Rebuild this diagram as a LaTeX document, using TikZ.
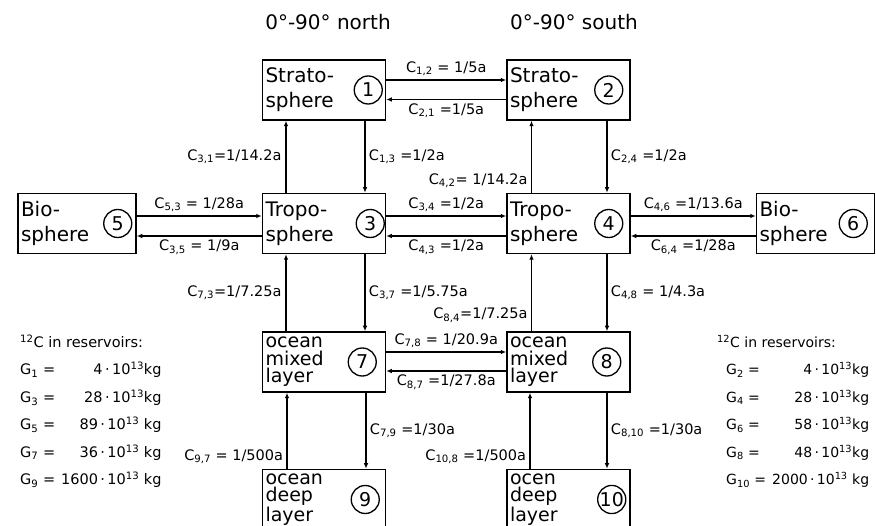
\documentclass[tikz,border=0pt]{standalone}
\usepackage{fontspec}
\setmainfont{DejaVu Sans}
\usetikzlibrary{arrows.meta,positioning}

\newcommand{\cf}[1]{C\textsubscript{#1}}

\begin{document}
\begin{tikzpicture}[
x=1pt, y=-1pt,
font=\fontsize{14.5}{16}\selectfont,
box/.style={draw, line width=1.5pt, minimum width=123pt, minimum height=60pt, text width=117pt, inner sep=3pt, align=left, font=\fontsize{20}{25}\selectfont},
bio/.style={box, minimum width=118pt, text width=112pt},
ocean/.style={box, font=\fontsize{19}{17.5}\selectfont},
num/.style={draw, circle, line width=1.3pt, minimum size=28pt, inner sep=0pt, font=\fontsize{19}{19}\selectfont},
flow/.style={-{Latex[length=5.5pt,width=4.5pt]}, line width=1.2pt},
heavy/.style={flow, line width=2.4pt},
head/.style={font=\fontsize{20}{24}\selectfont},
>=Latex
]
\useasboundingbox (0,0) rectangle (876,526);

% headers
\node[head] (hdN) at (328,22) {0°-90° north};
\node[head] (hdS) at (574,22) {0°-90° south};

% reservoirs
\node[box] (str1) at (324,90) {Strato-\\sphere};
\node[box, right=120pt of str1] (str2) {Strato-\\sphere};
\node[box, below=72pt of str1] (tro3) {Tropo-\\sphere};
\node[box, below=72pt of str2] (tro4) {Tropo-\\sphere};
\node[bio, left=125pt of tro3] (bio5) {Bio-\\sphere};
\node[bio, right=125pt of tro4] (bio6) {Bio-\\sphere};
\node[ocean, below=77pt of tro3] (mix7) {ocean\\mixed\\layer};
\node[ocean, below=77pt of tro4] (mix8) {ocean\\mixed\\layer};
\node[ocean, below=76pt of mix7] (deep9) {ocean\\deep\\layer};
\node[ocean, below=76pt of mix8] (deep10) {ocen\\deep\\layer};

\foreach \b/\n/\d in {str1/1/18, str2/2/22, tro3/3/16, tro4/4/22, bio5/5/19, bio6/6/22, mix7/7/24, mix8/8/24, deep9/9/21, deep10/10/19}
  \node[num] (n\n) at ([xshift=-\d]\b.east) {\n};

% horizontal exchange
\draw[flow] ([yshift=10]str1.east) -- node[above]{\cf{1,2} = 1/5a} ([yshift=10]str2.west);
\draw[flow] ([yshift=-9.5]str2.west) -- node[below]{\cf{2,1} =1/5a} ([yshift=-9.5]str1.east);
\draw[flow] ([yshift=7.5]bio5.east) -- node[above]{\cf{5,3} = 1/28a} ([yshift=7.5]tro3.west);
\draw[flow] ([yshift=-12.5]tro3.west) -- node[below]{\cf{3,5} = 1/9a} ([yshift=-12.5]bio5.east);
\draw[flow] ([yshift=7.5]tro3.east) -- node[above]{\cf{3,4} =1/2a} ([yshift=7.5]tro4.west);
\draw[flow] ([yshift=-12.5]tro4.west) -- node[below]{\cf{4,3} =1/2a} ([yshift=-12.5]tro3.east);
\draw[flow] ([yshift=7.5]tro4.east) -- node[above]{\cf{4,6} =1/13.6a} ([yshift=7.5]bio6.west);
\draw[flow] ([yshift=-12.5]bio6.west) -- node[below]{\cf{6,4} =1/28a} ([yshift=-12.5]tro4.east);
\draw[flow] ([yshift=10]mix7.east) -- node[above]{\cf{7,8} = 1/20.9a} ([yshift=10]mix8.west);
\draw[flow] ([yshift=-9]mix8.west) -- node[below]{\cf{8,7} =1/27.8a} ([yshift=-9]mix7.east);

% vertical exchange
\draw[heavy] ([xshift=-38]tro3.north) -- node[left]{\cf{3,1}=1/14.2a} ([xshift=-38]str1.south);
\draw[flow] ([xshift=41]str1.south) -- node[right]{\cf{1,3} =1/2a} ([xshift=41]tro3.north);
\draw[flow] ([xshift=-37]tro4.north) -- node[left, pos=0.17]{\cf{4,2}= 1/14.2a} ([xshift=-37]str2.south);
\draw[flow] ([xshift=38.5]str2.south) -- node[right]{\cf{2,4} =1/2a} ([xshift=38.5]tro4.north);
\draw[heavy] ([xshift=-38]mix7.north) -- node[left]{\cf{7,3}=1/7.25a} ([xshift=-38]tro3.south);
\draw[flow] ([xshift=41]tro3.south) -- node[right]{\cf{3,7} =1/5.75a} ([xshift=41]mix7.north);
\draw[flow] ([xshift=-37]mix8.north) -- node[left, pos=0.21]{\cf{8,4}=1/7.25a} ([xshift=-37]tro4.south);
\draw[flow] ([xshift=38.5]tro4.south) -- node[right]{\cf{4,8} = 1/4.3a} ([xshift=38.5]mix8.north);
\draw[flow] ([xshift=-37]deep9.north) -- node[left, pos=0.16]{\cf{9,7} = 1/500a} ([xshift=-37]mix7.south);
\draw[flow] ([xshift=42]mix7.south) -- node[right]{\cf{7,9} =1/30a} ([xshift=42]deep9.north);
\draw[flow] ([xshift=-38.5]deep10.north) -- node[left, pos=0.16]{\cf{10,8} =1/500a} ([xshift=-38.5]mix8.south);
\draw[flow] ([xshift=38.5]mix8.south) -- node[right]{\cf{8,10} =1/30a} ([xshift=38.5]deep10.north);

% carbon contents
\node[anchor=north west, inner sep=0pt, font=\fontsize{14.5}{27.5}\selectfont] (resN) at (20,328) {%
\begin{tabular}{@{}l@{\hspace{6pt}}r@{}}
\multicolumn{2}{@{}l@{}}{\textsuperscript{12}C in reservoirs:}\\
G\textsubscript{1} = & 4\,·\,10\textsuperscript{13}kg\\
G\textsubscript{3} = & 28\,·\,10\textsuperscript{13}kg\\
G\textsubscript{5} = & 89\,·\,10\textsuperscript{13} kg\\
G\textsubscript{7} = & 36\,·\,10\textsuperscript{13} kg\\
G\textsubscript{9} = & 1600\,·\,10\textsuperscript{13} kg
\end{tabular}};
\node[anchor=north west, inner sep=0pt, font=\fontsize{14}{27.5}\selectfont] (resS) at (717,328) {%
\begin{tabular}{@{\hspace{9pt}}l@{\hspace{6pt}}r@{}}
\multicolumn{2}{@{}l@{}}{\textsuperscript{12}C in reservoirs:}\\
G\textsubscript{2} = & 4\,·\,10\textsuperscript{13}kg\\
G\textsubscript{4} = & 28\,·\,10\textsuperscript{13}kg\\
G\textsubscript{6} = & 58\,·\,10\textsuperscript{13}kg\\
G\textsubscript{8} = & 48\,·\,10\textsuperscript{13}kg\\
G\textsubscript{10} = & 2000\,·\,10\textsuperscript{13} kg
\end{tabular}};
\end{tikzpicture}
\end{document}
